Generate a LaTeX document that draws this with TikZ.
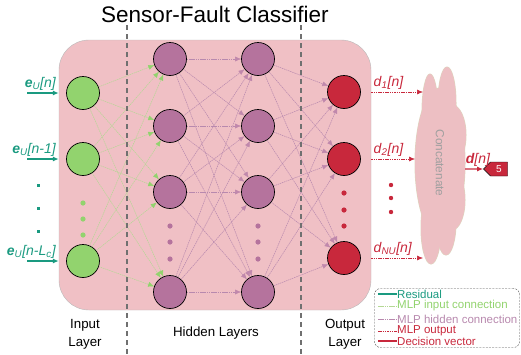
\documentclass[tikz,border=0pt]{standalone}
\usepackage{fontspec}
\setmainfont{Liberation Sans}
\usepackage{xcolor}
\usetikzlibrary{arrows.meta,shapes.symbols}

\definecolor{resteal}{HTML}{1A9A80}
\definecolor{ingreen}{HTML}{92D36E}
\definecolor{edgegreen}{HTML}{B4D894}
\definecolor{hidpurple}{HTML}{B5739D}
\definecolor{edgepurple}{HTML}{B889AE}
\definecolor{outred}{HTML}{C8283C}
\definecolor{boxpink}{HTML}{F0C0C5}
\definecolor{cloudpink}{HTML}{EDBFC3}
\definecolor{cloudedge}{HTML}{DCD6BE}
\definecolor{sepgray}{HTML}{707070}

\begin{document}
\begin{tikzpicture}[x=1pt,y=-1pt]

		\tikzset{vertex/.style = {shape=circle,draw,line width=0.7pt,minimum size=33pt,inner sep=0pt}}
		\tikzset{clsbox/.style = {draw=gray!55,fill=boxpink,rounded corners=30pt,minimum width=312pt,minimum height=270pt}}
		\tikzset{inedge/.style = {->,> = {Latex[length=6pt,width=5pt,color=ingreen]},draw=edgegreen,line width=0.5pt,dash pattern=on 1.5pt off 0.7pt}}
		\tikzset{hidedge/.style = {->,> = {Latex[length=6pt,width=5pt,color=hidpurple!85]},draw=edgepurple,line width=0.5pt,dash pattern=on 1.5pt off 0.7pt}}
		\tikzset{outedge/.style = {->,> = {Latex[length=6pt,width=5pt]},draw=outred,line width=0.6pt,dash pattern=on 1.5pt off 0.8pt}}
		\tikzset{resedge/.style = {->,> = {Latex[length=6pt,width=5pt]},draw=resteal,line width=1.6pt}}
		\tikzset{decedge/.style = {->,> = {Latex[length=6pt,width=5pt]},draw=outred,line width=1.2pt}}
		\tikzset{sep/.style = {draw=sepgray,line width=1.4pt,dash pattern=on 5pt off 4pt}}
		\tikzset{lab/.style = {font=\fontsize{14}{16}\selectfont,inner sep=2pt}}
		\tikzset{laylab/.style = {font=\fontsize{13.3}{18}\selectfont,align=center}}
		\tikzset{legtext/.style = {anchor=west,inner sep=0pt,font=\fontsize{11.5}{12}\selectfont}}

		\useasboundingbox (0,0) rectangle (521,354);

		%classifier box
		\node[clsbox] (box) at (215,175) {};
		\node[font=\fontsize{22.5}{26}\selectfont] (title) at (215,14) {Sensor-Fault Classifier};

		%input layer
		\node[vertex,fill=ingreen] (in1) at (83,93) {};
		\node[vertex,fill=ingreen] (in2) at (83,159) {};
		\node[vertex,fill=ingreen] (in3) at (83,261) {};
		\foreach \y in {203,219,235} \fill[ingreen] (83,\y) circle (2.6pt);

		%hidden layers
		\node[vertex,fill=hidpurple] (h1) at (170,59) {};
		\node[vertex,fill=hidpurple] (h2) at (170,126) {};
		\node[vertex,fill=hidpurple] (h3) at (170,192) {};
		\node[vertex,fill=hidpurple] (h4) at (170,292) {};
		\node[vertex,fill=hidpurple] (g1) at (258,59) {};
		\node[vertex,fill=hidpurple] (g2) at (258,126) {};
		\node[vertex,fill=hidpurple] (g3) at (258,192) {};
		\node[vertex,fill=hidpurple] (g4) at (258,292) {};
		\foreach \y in {226,242,259} {
			\fill[hidpurple] (170,\y) circle (2.6pt);
			\fill[hidpurple] (258,\y) circle (2.6pt);
		}

		%output layer
		\node[vertex,fill=outred] (out1) at (344,92) {};
		\node[vertex,fill=outred] (out2) at (344,159) {};
		\node[vertex,fill=outred] (out3) at (344,258) {};
		\foreach \y in {193,210,226} \fill[outred] (344,\y) circle (2.6pt);

		%edges
		\foreach \i in {1,2,3} \foreach \j in {1,...,4} \draw[inedge] (in\i) to (h\j);
		\foreach \i in {1,...,4} \foreach \j in {1,...,4} \draw[hidedge] (h\i) to (g\j);
		\foreach \i in {1,...,4} \foreach \j in {1,2,3} \draw[hidedge] (g\i) to (out\j);

		%separators
		\coordinate (s1t) at (127,25);
		\coordinate (s1b) at (127,354);
		\coordinate (s2t) at (301,25);
		\coordinate (s2b) at (301,354);
		\draw[sep] (s1t) -- (s1b);
		\draw[sep] (s2t) -- (s2b);

		%residual inputs
		\coordinate (a1) at (27,93);
		\coordinate (a2) at (27,159);
		\coordinate (a3) at (27,261);
		\draw[resedge] (a1) -- (a1 -| box.west) node[pos=1,anchor=south east,lab,text=resteal] {{\bfseries\itshape e}\textsubscript{\itshape U}\textit{[n]}};
		\draw[resedge] (a2) -- (a2 -| box.west) node[pos=1,anchor=south east,lab,text=resteal] {{\bfseries\itshape e}\textsubscript{\itshape U}\textit{[n-1]}};
		\draw[resedge] (a3) -- (a3 -| box.west) node[pos=1,anchor=south east,lab,text=resteal] {{\bfseries\itshape e}\textsubscript{\itshape U}\textit{[n-L}\textsubscript{\itshape c}\textit{]}};
		\foreach \y in {185,208,231} \fill[resteal] (36.5,\y-1.5) rectangle ++(3,3);

		%concatenation cloud
		\foreach \cx/\cy/\rx/\ry in {430/112/8/38, 447/103/9/36, 440/163/25/75, 452/135/14/30, 452/200/13/30, 431/228/10/36, 446/222/10/33}
			\draw[cloudedge,line width=1pt] (\cx,\cy) ellipse ({\rx pt} and {\ry pt});
		\foreach \cx/\cy/\rx/\ry in {430/112/8/38, 447/103/9/36, 440/163/25/75, 452/135/14/30, 452/200/13/30, 431/228/10/36, 446/222/10/33}
			\fill[cloudpink] (\cx,\cy) ellipse ({\rx pt} and {\ry pt});
		\node[font=\fontsize{11.8}{13}\selectfont,text=gray!75] (cld) at (440,163) {\rotatebox{-90}{Concatenate}};
		\coordinate (cin) at (423,0);
		\coordinate (cin2) at (415,0);
		\coordinate (cout) at (465,169);
		\draw[outedge] (out1 -| box.east) -- (cin |- out1) node[pos=0,anchor=south west,lab,text=outred] {\textit{d}\textsubscript{\itshape 1}\textit{[n]}};
		\draw[outedge] (out2 -| box.east) -- (cin2 |- out2) node[pos=0,anchor=south west,lab,text=outred] {\textit{d}\textsubscript{\itshape 2}\textit{[n]}};
		\draw[outedge] (out3 -| box.east) -- (cin |- out3) node[pos=0,anchor=south west,lab,text=outred] {\textit{d}\textsubscript{\itshape NU}\textit{[n]}};
		\foreach \y in {185,198,212} \fill[outred] (391,\y) circle (2.2pt);

		%decision
		\node[signal,signal to=west,draw=black,fill=outred,text=white,font=\fontsize{10}{11}\selectfont,minimum width=24pt,minimum height=14pt,inner sep=1pt] (tag) at (499,169) {5};
		\draw[decedge] (cout) -- (tag) node[midway,above,xshift=4pt,lab,text=outred] {{\bfseries\itshape d}\textit{[n]}};

		%layer names
		\node[laylab] (inlab) at (85,334) {Input\\Layer};
		\node[laylab] (hidlab) at (216,333) {Hidden Layers};
		\node[laylab] (outlab) at (345,334) {Output\\Layer};

		%legend
		\node[draw=black!70,dash pattern=on 2pt off 1.2pt,rounded corners=6pt,minimum width=145pt,minimum height=59pt] (leg) at (447,318) {};
		\node[legtext,text=resteal] (t1) at (397,294) {Residual};
		\node[legtext,text=ingreen] (t2) at (397,306) {MLP input connection};
		\node[legtext,text=edgepurple] (t3) at (397,319) {MLP hidden connection};
		\node[legtext,text=outred] (t4) at (397,331) {MLP output};
		\node[legtext,text=outred] (t5) at (397,341) {Decision vector};
		\coordinate (l1) at (378,294);
		\coordinate (l2) at (378,306);
		\coordinate (l3) at (378,319);
		\coordinate (l4) at (378,331);
		\coordinate (l5) at (378,341);
		\draw[resedge,-] (l1) -- (t1.west);
		\draw[inedge,-] (l2) -- (t2.west);
		\draw[hidedge,-] (l3) -- (t3.west);
		\draw[outedge,-] (l4) -- (t4.west);
		\draw[decedge,-] (l5) -- (t5.west);
		\end{tikzpicture}
\end{document}
